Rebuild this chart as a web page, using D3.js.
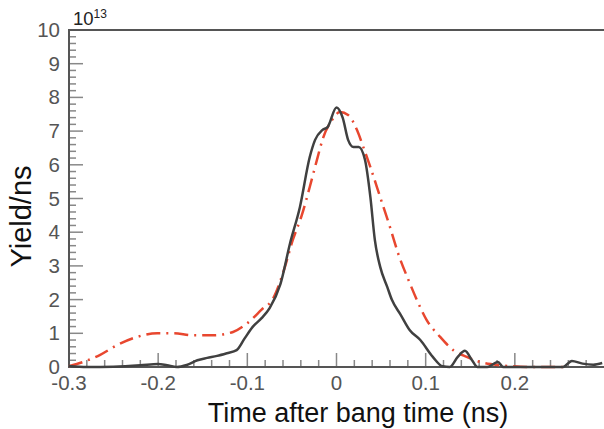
<!DOCTYPE html>
<html>
<head>
<meta charset="utf-8">
<script src="https://cdn.jsdelivr.net/npm/d3@7"></script>
<style>
  body { margin: 0; background: #fff; }
  svg { display: block; font-family: "Liberation Sans", Arial, sans-serif; }
</style>
</head>
<body>
<div id="chart"></div>
<script>
// measured yield (solid) : time after bang time (ns) and yield/ns in units of 1e13
const measT = [-0.300, -0.280, -0.250, -0.220, -0.200, -0.190, -0.179, -0.168, -0.156, -0.145,
  -0.134, -0.123, -0.112, -0.103, -0.094, -0.084, -0.075, -0.063, -0.052, -0.041, -0.030,
  -0.024, -0.016, -0.010, 0.000, 0.007, 0.013, 0.019, 0.025, 0.032, 0.038, 0.043, 0.049,
  0.057, 0.062, 0.072, 0.082, 0.094, 0.108, 0.119, 0.127, 0.136, 0.144, 0.152, 0.158,
  0.169, 0.181, 0.187, 0.220, 0.254, 0.264, 0.276, 0.288, 0.298];
const measY = [0.03, 0.00, 0.01, 0.05, 0.09, 0.05, 0.00, 0.06, 0.20, 0.27,
  0.33, 0.41, 0.50, 0.85, 1.19, 1.45, 1.75, 2.45, 3.68, 4.75, 6.23,
  6.74, 7.03, 7.12, 7.70, 7.39, 6.74, 6.53, 6.53, 6.14, 5.04, 3.77, 2.97,
  2.37, 2.00, 1.55, 1.10, 0.80, 0.30, 0.02, 0.00, 0.30, 0.48, 0.20, 0.00,
  0.00, 0.15, 0.00, 0.00, 0.00, 0.18, 0.10, 0.07, 0.12];

// simulated yield (dash-dot)
const simT = [-0.300, -0.284, -0.265, -0.246, -0.224, -0.201, -0.183, -0.161, -0.139, -0.116,
  -0.100, -0.084, -0.071, -0.060, -0.049, -0.039, -0.030, -0.022, -0.015, -0.005, 0.004,
  0.013, 0.023, 0.030, 0.038, 0.049, 0.060, 0.069, 0.082, 0.090, 0.101, 0.116, 0.131,
  0.146, 0.161, 0.175, 0.198, 0.220, 0.256];
const simY = [0.02, 0.15, 0.36, 0.65, 0.89, 1.00, 1.00, 0.94, 0.94, 1.04,
  1.30, 1.70, 2.04, 2.79, 3.77, 4.50, 5.34, 6.14, 6.80, 7.33, 7.57,
  7.48, 7.03, 6.53, 5.93, 5.04, 4.15, 3.38, 2.50, 2.00, 1.40, 0.90, 0.50,
  0.30, 0.15, 0.08, 0.02, 0.00, 0.00];

const xTicks = [-0.3, -0.2, -0.1, 0, 0.1, 0.2];
const yTicks = [0, 1, 2, 3, 4, 5, 6, 7, 8, 9, 10];

const W = 604, H = 429,
  margin = {left: 69, right: 0, top: 30, bottom: 62};

const svg = d3.select('#chart').append('svg')
  .attr('width', W)
  .attr('height', H);

const x = d3.scaleLinear().domain([-0.3, 0.3]).range([margin.left, W - margin.right]),
  y = d3.scaleLinear().domain([0, 10]).range([H - margin.bottom, margin.top]);

const axisColor = '#555', minorColor = '#888';

// minor + major ticks, pointing into the frame
const g = svg.append('g');
g.selectAll('line.xminor')
  .data(d3.range(-0.28, 0.3, 0.02).filter(v => Math.abs(Math.round(v * 10) - v * 10) > 1e-6))
  .join('line')
  .attr('x1', d => x(d)).attr('x2', d => x(d))
  .attr('y1', y(0)).attr('y2', y(0) - 7)
  .attr('stroke', minorColor).attr('stroke-width', 1.5);
g.selectAll('line.xmajor').data(xTicks.slice(1)).join('line')
  .attr('x1', d => x(d)).attr('x2', d => x(d))
  .attr('y1', y(0)).attr('y2', y(0) - 14)
  .attr('stroke', minorColor).attr('stroke-width', 1.5);
g.selectAll('line.yminor')
  .data(d3.range(0.2, 10, 0.2).filter(v => Math.abs(Math.round(v) - v) > 1e-6))
  .join('line')
  .attr('x1', x(-0.3)).attr('x2', x(-0.3) + 7)
  .attr('y1', d => y(d)).attr('y2', d => y(d))
  .attr('stroke', minorColor).attr('stroke-width', 1.5);
g.selectAll('line.ymajor').data(yTicks.slice(1, -1)).join('line')
  .attr('x1', x(-0.3)).attr('x2', x(-0.3) + 14)
  .attr('y1', d => y(d)).attr('y2', d => y(d))
  .attr('stroke', minorColor).attr('stroke-width', 1.5);

// frame: top, left, bottom
svg.append('path')
  .attr('d', `M${W},${y(10)}H${x(-0.3)}V${y(0)}H${W}`)
  .attr('fill', 'none')
  .attr('stroke', axisColor)
  .attr('stroke-width', 2);

// tick labels
svg.selectAll('text.xt').data(xTicks).join('text')
  .attr('x', d => x(d))
  .attr('y', y(0) + 23)
  .attr('text-anchor', 'middle')
  .attr('font-size', 20.5)
  .attr('fill', axisColor)
  .text(d => d === 0 ? '0' : d3.format('.1f')(d).replace('−', '-'));
svg.selectAll('text.yt').data(yTicks).join('text')
  .attr('x', 60)
  .attr('y', d => y(d) + 7)
  .attr('text-anchor', 'end')
  .attr('font-size', 20.5)
  .attr('fill', axisColor)
  .text(d => d);

// exponent
const exp = svg.append('text')
  .attr('x', 73).attr('y', 25)
  .attr('font-size', 18.5)
  .attr('fill', '#222');
exp.append('tspan').text('10');
exp.append('tspan').attr('font-size', 12).attr('dy', -7).text('13');

// axis titles
svg.append('text')
  .attr('x', 358).attr('y', 422)
  .attr('text-anchor', 'middle')
  .attr('font-size', 27)
  .attr('fill', '#111')
  .text('Time after bang time (ns)');
svg.append('text')
  .attr('transform', 'translate(31,216.5) rotate(-90)')
  .attr('text-anchor', 'middle')
  .attr('font-size', 29)
  .attr('fill', '#111')
  .text('Yield/ns');

// curves
const line = d3.line()
  .x(d => x(d[0]))
  .y(d => y(d[1]))
  .curve(d3.curveMonotoneX);

const plot = svg.append('g');
plot.append('path')
  .datum(simT.map((t, i) => [t, simY[i]]))
  .attr('d', line)
  .attr('fill', 'none')
  .attr('stroke', '#e8472f')
  .attr('stroke-width', 2.5)
  .attr('stroke-dasharray', '14,6,2,6');
plot.append('path')
  .datum(measT.map((t, i) => [t, measY[i]]))
  .attr('d', line)
  .attr('fill', 'none')
  .attr('stroke', '#404040')
  .attr('stroke-width', 2.5);
</script>
</body>
</html>
